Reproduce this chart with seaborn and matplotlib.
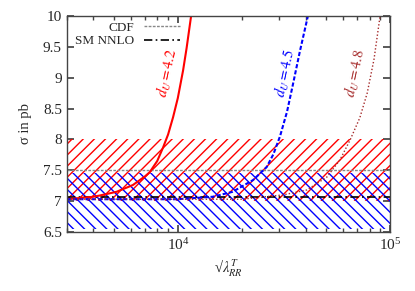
import matplotlib
matplotlib.use("Agg")
import matplotlib.pyplot as plt
import pandas as pd
import seaborn as sns

# Curves: sqrt(lambda_RR^T) vs sigma (pb)
lam_42 = [3000, 4000, 4285, 5140, 6140, 7000, 7380, 8000, 8525, 9000, 9500, 10000,
          10590, 11000, 11550]
sig_42 = [7.03, 7.07, 7.09, 7.15, 7.26, 7.40, 7.47, 7.65, 7.87, 8.08, 8.36, 8.67,
          9.12, 9.48, 10.0]

lam_45 = [3000, 10000, 14600, 18100, 22600, 26200, 28200, 30300, 32700, 34800,
          37600, 41000]
sig_45 = [7.03, 7.03, 7.07, 7.15, 7.34, 7.55, 7.76, 8.05, 8.45, 8.88, 9.43, 10.0]

lam_48 = [3000, 20000, 31300, 40500, 50400, 58100, 64800, 72000, 78000, 84000, 89700]
sig_48 = [7.03, 7.03, 7.10, 7.18, 7.39, 7.67, 7.99, 8.35, 8.75, 9.30, 10.0]

# Measurements
cdf_value = 7.5
cdf_lo, cdf_hi = 7.0, 8.0
sm_nnlo = 7.06
sm_lo, sm_hi = 6.55, 7.45

labels = ["$d_U = 4.2$", "$d_U = 4.5$", "$d_U = 4.8$"]
label_pos = [(8970, 9.08), (32000, 9.08), (68400, 9.08)]

sns.set_theme(style="ticks")
plt.rcParams["font.family"] = ["Liberation Serif", "DejaVu Serif"]
plt.rcParams["mathtext.fontset"] = "stix"
plt.rcParams["hatch.linewidth"] = 1.0

fig = plt.figure(figsize=(4.15, 2.91), dpi=100)
ax = fig.add_axes([0.161, 0.203, 0.779, 0.742])

ax.axhspan(cdf_lo, cdf_hi, facecolor="none", edgecolor="red", hatch="///", linewidth=0)
ax.axhspan(sm_lo, sm_hi, facecolor="none", edgecolor="blue", hatch="\\\\\\", linewidth=0)

ax.axhline(cdf_value, color="#888888", linestyle=(0, (2, 1)), linewidth=1.0, label="CDF")
ax.axhline(sm_nnlo, color="black", linestyle=(0, (5, 2, 1, 2)), linewidth=1.2, label="SM NNLO")

df42 = pd.DataFrame({"lam": lam_42, "sig": sig_42})
df45 = pd.DataFrame({"lam": lam_45, "sig": sig_45})
df48 = pd.DataFrame({"lam": lam_48, "sig": sig_48})
sns.lineplot(data=df42, x="lam", y="sig", ax=ax, color="red", linewidth=1.5)
sns.lineplot(data=df45, x="lam", y="sig", ax=ax, color="blue", linewidth=1.5,
             linestyle=(0, (2, 1)))
sns.lineplot(data=df48, x="lam", y="sig", ax=ax, color="#a52a2a", linewidth=1.0,
             linestyle=(0, (1, 1.5)))

for text, (x, y), c in zip(labels, label_pos, ["red", "blue", "#a52a2a"]):
    ax.text(x, y, text, color=c, rotation=78, ha="center", va="center", fontsize=10.5)

ax.set_xscale("log")
ax.set_xlim(3000, 1e5)
ax.set_ylim(6.5, 10)
ax.set_yticks([6.5, 7, 7.5, 8, 8.5, 9, 9.5, 10])
ax.set_yticklabels(["6.5", "7", "7.5", "8", "8.5", "9", "9.5", "10"])
ax.tick_params(which="both", direction="in", top=True, right=True, labelsize=11,
               color="#444444")
ax.tick_params(which="major", length=5)
ax.tick_params(which="minor", length=3)
for s in ax.spines.values():
    s.set_color("#444444")
    s.set_linewidth(1.0)

ax.set_xlabel("√$\\lambda_{RR}^{T}$", fontsize=10.5, labelpad=4)
ax.set_ylabel("σ in pb", fontsize=10.5, labelpad=8)

ax.legend(loc="upper right", bbox_to_anchor=(0.37, 1.005), frameon=False,
          markerfirst=False, handlelength=2.7, fontsize=9.5, labelspacing=0.1,
          borderpad=0, handletextpad=0.75)

fig.savefig("out.png", dpi=100)
